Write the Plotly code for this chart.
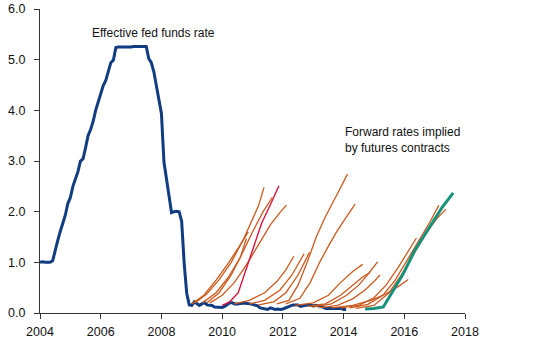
import plotly.graph_objects as go

# Effective fed funds rate, monthly values (Jan..Dec) per year
ffr_years = [2004, 2005, 2006, 2007, 2008, 2009, 2010, 2011, 2012, 2013, 2014]
ffr_values = [
    [1.00, 1.01, 1.00, 1.00, 1.00, 1.03, 1.26, 1.43, 1.61, 1.76, 1.93, 2.16],
    [2.28, 2.50, 2.63, 2.79, 3.00, 3.04, 3.26, 3.50, 3.62, 3.78, 4.00, 4.16],
    [4.29, 4.49, 4.59, 4.79, 4.94, 4.99, 5.24, 5.25, 5.25, 5.25, 5.25, 5.24],
    [5.25, 5.26, 5.26, 5.25, 5.25, 5.25, 5.26, 5.02, 4.94, 4.76, 4.49, 4.24],
    [3.94, 2.98, 2.61, 2.28, 1.98, 2.00, 2.01, 2.00, 1.81, 0.97, 0.39, 0.16],
    [0.15, 0.22, 0.18, 0.15, 0.18, 0.21, 0.16, 0.16, 0.15, 0.12, 0.12, 0.12],
    [0.11, 0.13, 0.16, 0.20, 0.20, 0.18, 0.18, 0.19, 0.19, 0.19, 0.19, 0.18],
    [0.17, 0.16, 0.14, 0.10, 0.09, 0.09, 0.07, 0.10, 0.08, 0.07, 0.08, 0.07],
    [0.08, 0.10, 0.13, 0.14, 0.16, 0.16, 0.16, 0.13, 0.14, 0.16, 0.16, 0.16],
    [0.14, 0.15, 0.14, 0.15, 0.11, 0.09, 0.09, 0.08, 0.08, 0.09, 0.08, 0.09],
    [0.07, 0.07],
]

# Forward curves implied by futures: (year, rate) points
forward_curves = [
    [(2009.0, 0.18), (2009.4, 0.35), (2009.8, 0.65), (2010.2, 0.98), (2010.55, 1.30), (2010.86, 1.60)],
    [(2009.1, 0.20), (2009.5, 0.38), (2009.9, 0.66), (2010.3, 1.00), (2010.7, 1.45), (2011.0, 1.85), (2011.2, 2.12), (2011.38, 2.48)],
    [(2009.35, 0.20), (2009.8, 0.40), (2010.2, 0.70), (2010.6, 1.10), (2011.0, 1.60), (2011.35, 2.00), (2011.65, 2.28)],
    [(2009.5, 0.20), (2009.9, 0.40), (2010.3, 0.75), (2010.6, 1.10), (2010.8, 1.47)],
    [(2009.6, 0.20), (2010.0, 0.35), (2010.4, 0.60), (2010.8, 0.95), (2011.2, 1.35), (2011.6, 1.75), (2011.9, 1.98), (2012.12, 2.13)],
    [(2010.4, 0.18), (2010.9, 0.25), (2011.4, 0.40), (2011.8, 0.62), (2012.1, 0.85), (2012.36, 1.12)],
    [(2010.9, 0.18), (2011.4, 0.25), (2011.9, 0.45), (2012.3, 0.75), (2012.7, 1.17)],
    [(2011.2, 0.16), (2011.7, 0.22), (2012.1, 0.40), (2012.5, 0.75), (2012.88, 1.20)],
    [(2011.8, 0.18), (2012.2, 0.25), (2012.5, 0.55), (2012.8, 1.00), (2013.1, 1.50), (2013.4, 1.90), (2013.75, 2.30), (2014.13, 2.74)],
    [(2012.1, 0.18), (2012.56, 0.29), (2012.9, 0.60), (2013.22, 1.01), (2013.5, 1.32), (2013.77, 1.60), (2014.1, 1.90), (2014.38, 2.15)],
    [(2012.4, 0.15), (2013.0, 0.20), (2013.5, 0.35), (2013.9, 0.60), (2014.3, 0.82), (2014.63, 0.96)],
    [(2012.8, 0.13), (2013.4, 0.18), (2013.9, 0.35), (2014.3, 0.55), (2014.65, 0.72), (2014.87, 0.80)],
    [(2013.0, 0.12), (2013.6, 0.18), (2014.1, 0.35), (2014.5, 0.55), (2014.85, 0.80), (2015.12, 1.01)],
    [(2013.2, 0.10), (2013.8, 0.15), (2014.3, 0.28), (2014.7, 0.45), (2015.0, 0.62), (2015.2, 0.75)],
    [(2013.6, 0.10), (2014.3, 0.15), (2014.9, 0.25), (2015.4, 0.38), (2015.8, 0.52), (2016.13, 0.66)],
    [(2013.9, 0.10), (2014.5, 0.15), (2015.0, 0.30), (2015.4, 0.55), (2015.8, 0.90), (2016.1, 1.20), (2016.4, 1.48)],
    [(2014.2, 0.10), (2014.8, 0.17), (2015.3, 0.35), (2015.7, 0.65), (2016.1, 1.05), (2016.5, 1.45), (2016.85, 1.80), (2017.14, 2.13)],
    [(2014.4, 0.09), (2015.0, 0.15), (2015.5, 0.40), (2015.9, 0.75), (2016.3, 1.15), (2016.7, 1.55), (2017.05, 1.85), (2017.37, 2.05)],
]
crimson_curve = [(2010.0, 0.15), (2010.25, 0.22), (2010.53, 0.40), (2010.86, 0.98), (2011.3, 1.77), (2011.6, 2.15), (2011.87, 2.51)]
teal_curve = [(2014.71, 0.08), (2015.0, 0.09), (2015.31, 0.12), (2015.64, 0.45), (2015.97, 0.78), (2016.35, 1.24),
              (2016.85, 1.70), (2017.23, 2.07), (2017.61, 2.37)]

x_ticks = [2004, 2006, 2008, 2010, 2012, 2014, 2016, 2018]
y_ticks = [0, 1, 2, 3, 4, 5, 6]

fig = go.Figure()

ffr_x, ffr_y = [], []
for yr, vals in zip(ffr_years, ffr_values):
    for m, v in enumerate(vals):
        ffr_x.append(yr + m / 12)
        ffr_y.append(v)

fig.add_trace(go.Scatter(x=ffr_x, y=ffr_y, mode="lines",
                         line=dict(color="#103c82", width=3), hoverinfo="skip"))

for c in forward_curves:
    fig.add_trace(go.Scatter(x=[p[0] for p in c], y=[p[1] for p in c], mode="lines",
                             line=dict(color="#cc5a1e", width=1.3), hoverinfo="skip"))

fig.add_trace(go.Scatter(x=[p[0] for p in crimson_curve], y=[p[1] for p in crimson_curve], mode="lines",
                         line=dict(color="#d9143c", width=1.4), hoverinfo="skip"))
fig.add_trace(go.Scatter(x=[p[0] for p in teal_curve], y=[p[1] for p in teal_curve], mode="lines",
                         line=dict(color="#16917b", width=3), hoverinfo="skip"))

font_family = "Arial, Liberation Sans, sans-serif"

fig.add_annotation(x=2005.65, y=5.53, xref="x", yref="y", text="Effective fed funds rate",
                   showarrow=False, xanchor="left", yanchor="middle",
                   font=dict(family=font_family, size=12, color="#111111"))
fig.add_annotation(x=2013.98, y=3.41, xref="x", yref="y", text="Forward rates implied<br>by futures contracts",
                   showarrow=False, xanchor="left", yanchor="middle", align="left",
                   font=dict(family=font_family, size=12, color="#111111"))

fig.update_layout(
    width=533, height=360,
    margin=dict(l=40, r=68, t=9, b=47, autoexpand=False),
    paper_bgcolor="white", plot_bgcolor="white",
    showlegend=False,
    font=dict(family=font_family, size=12.5, color="#111111"),
    xaxis=dict(range=[2004, 2018], tickvals=x_ticks, ticktext=[str(t) for t in x_ticks],
               automargin=False, ticklabelstandoff=2,
               showgrid=False, zeroline=False, showline=True, linecolor="#333333", linewidth=1,
               ticks="outside", ticklen=5, tickcolor="#333333"),
    yaxis=dict(range=[0, 6], tickvals=y_ticks, ticktext=[f"{t:.1f}" for t in y_ticks],
               automargin=False, ticklabelstandoff=6,
               showgrid=False, zeroline=False, showline=True, linecolor="#333333", linewidth=1,
               ticks="outside", ticklen=5, tickcolor="#333333"),
)

# remove the page's default body margin so the figure sits at the window origin
fig.write_html("out.html", config={"displayModeBar": False},
               post_script="document.body.style.margin='0';document.body.style.overflow='hidden';")
